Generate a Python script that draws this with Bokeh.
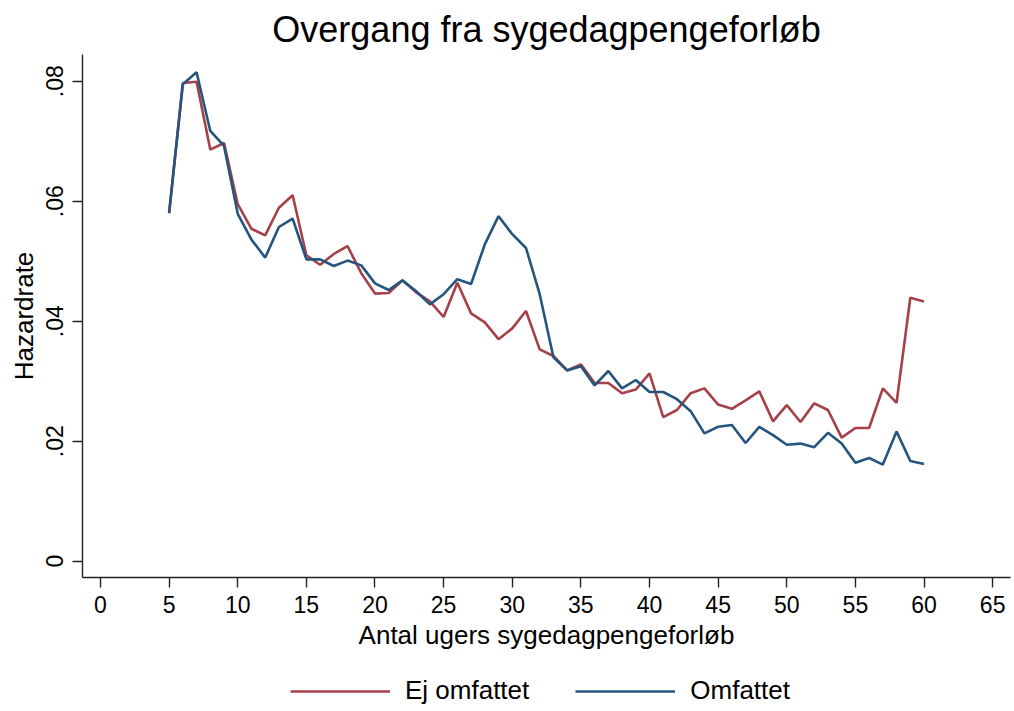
from bokeh.plotting import figure
from bokeh.layouts import column
from bokeh.models import Legend, LegendItem, FixedTicker, Range1d, CustomJSTickFormatter
from bokeh.embed import file_html
from bokeh.resources import INLINE

weeks = list(range(5, 61))
ej_omfattet = [0.0580, 0.0797, 0.0799, 0.0686, 0.0697, 0.0595, 0.0554, 0.0543, 0.0589, 0.0610,
               0.0510, 0.0494, 0.0512, 0.0525, 0.0480, 0.0446, 0.0447, 0.0468, 0.0448, 0.0433,
               0.0407, 0.0464, 0.0413, 0.0398, 0.0370, 0.0388, 0.0417, 0.0353, 0.0342, 0.0318,
               0.0328, 0.0297, 0.0297, 0.0280, 0.0286, 0.0313, 0.0240, 0.0252, 0.0280, 0.0288,
               0.0261, 0.0254, 0.0268, 0.0283, 0.0233, 0.0260, 0.0232, 0.0263, 0.0252, 0.0206,
               0.0222, 0.0222, 0.0288, 0.0264, 0.0439, 0.0433]
omfattet = [0.0580, 0.0795, 0.0815, 0.0717, 0.0692, 0.0579, 0.0536, 0.0506, 0.0557, 0.0571,
            0.0503, 0.0503, 0.0492, 0.0501, 0.0493, 0.0463, 0.0452, 0.0468, 0.0450, 0.0428,
            0.0445, 0.0470, 0.0462, 0.0528, 0.0575, 0.0545, 0.0522, 0.0445, 0.0340, 0.0318,
            0.0325, 0.0293, 0.0317, 0.0288, 0.0302, 0.0282, 0.0282, 0.0270, 0.0250, 0.0213,
            0.0224, 0.0227, 0.0197, 0.0224, 0.0210, 0.0194, 0.0196, 0.0190, 0.0214, 0.0196,
            0.0164, 0.0172, 0.0161, 0.0216, 0.0167, 0.0162]
series_names = ["Ej omfattet", "Omfattet"]
x_ticks = list(range(0, 70, 5))
y_ticks = [0, 0.02, 0.04, 0.06, 0.08]

FONT = "Liberation Sans"
RED = "#a6414a"
BLUE = "#25557d"

p = figure(width=1012, height=655, x_range=Range1d(-1.31, 66.3), y_range=Range1d(-0.00272, 0.08445),
           output_backend="svg", toolbar_location=None,
           min_border_left=82, min_border_right=2, min_border_top=54, min_border_bottom=78,
           title="Overgang fra sygedagpengeforløb")
p.title.text_font = FONT
p.title.text_font_size = "36px"
p.title.text_font_style = "normal"
p.title.align = "center"
p.title.text_color = "black"
p.outline_line_color = None
p.xgrid.visible = False
p.ygrid.visible = False

p.line(weeks, ej_omfattet, line_color=RED, line_width=2.6)
p.line(weeks, omfattet, line_color=BLUE, line_width=2.6)

for ax in (p.xaxis, p.yaxis):
    ax.axis_line_color = "#222222"
    ax.axis_line_width = 1.4
    ax.major_tick_line_color = "#222222"
    ax.major_tick_line_width = 1.4
    ax.major_tick_out = 10
    ax.major_tick_in = 0
    ax.minor_tick_line_color = None
    ax.major_label_text_font = FONT
    ax.major_label_text_font_size = "23px"
    ax.major_label_text_color = "black"
    ax.axis_label_text_font = FONT
    ax.axis_label_text_font_size = "26px"
    ax.axis_label_text_font_style = "normal"
    ax.axis_label_text_color = "black"

p.xaxis.ticker = FixedTicker(ticks=x_ticks)
p.xaxis.axis_label = "Antal ugers sygedagpengeforløb"
p.xaxis.major_label_standoff = 8
p.xaxis.axis_label_standoff = 4

p.yaxis.ticker = FixedTicker(ticks=y_ticks)
p.yaxis.formatter = CustomJSTickFormatter(code="return tick == 0 ? '0' : tick.toFixed(2).replace(/^0/, '');")
p.yaxis.major_label_orientation = "vertical"
p.yaxis.axis_label = "Hazardrate"
p.yaxis.major_label_standoff = 9
p.yaxis.axis_label_standoff = 5

# legend strip below the chart (key lines lie outside this strip's visible range)
lg = figure(width=1012, height=55, x_range=Range1d(-2, -1), y_range=Range1d(0, 1),
            output_backend="svg", toolbar_location=None,
            min_border_left=0, min_border_right=0, min_border_top=0, min_border_bottom=0)
lg.axis.visible = False
lg.xgrid.visible = False
lg.ygrid.visible = False
lg.outline_line_color = None
k1 = lg.line(weeks, ej_omfattet, line_color=RED, line_width=2.6)
k2 = lg.line(weeks, omfattet, line_color=BLUE, line_width=2.6)
legend = Legend(items=[LegendItem(label=series_names[0], renderers=[k1]),
                       LegendItem(label=series_names[1], renderers=[k2])],
                orientation="horizontal", location=(208, 4),
                glyph_width=100, glyph_height=26, label_standoff=15, spacing=46,
                label_text_font=FONT, label_text_font_size="26px", label_text_color="black",
                border_line_color=None, background_fill_alpha=0, padding=0, margin=0)
lg.add_layout(legend, "center")

layout = column(p, lg, spacing=0)
open("out.html", "w").write(file_html(layout, INLINE))
